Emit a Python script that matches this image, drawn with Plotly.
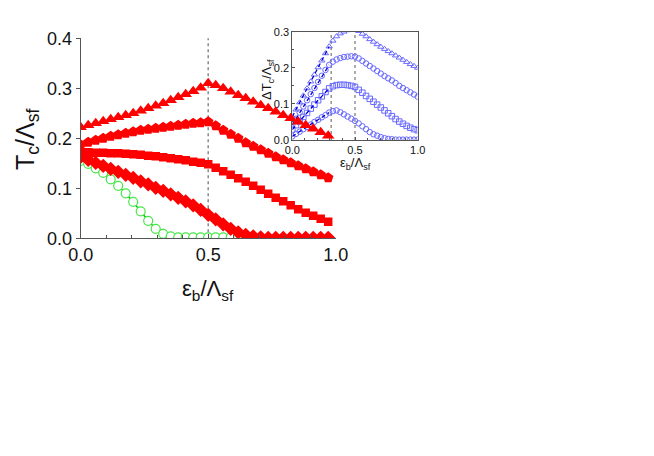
import plotly.graph_objects as go

# ---------------- data ----------------
# main panel: x grid (eps_b / Lambda_sf), 34 points
x_main = [k / 34 for k in range(34)]

tc_triangle = [0.222, 0.226, 0.230, 0.234, 0.238, 0.242, 0.246, 0.250, 0.255, 0.260,
               0.265, 0.270, 0.276, 0.282, 0.288, 0.294, 0.301, 0.310,
               0.306, 0.300, 0.293, 0.286, 0.280, 0.273, 0.266, 0.260, 0.253, 0.246,
               0.240, 0.233, 0.226, 0.219, 0.212, 0.205]
tc_pentagon = [0.187, 0.192, 0.196, 0.200, 0.204, 0.207, 0.210, 0.213, 0.216, 0.218,
               0.220, 0.222, 0.224, 0.226, 0.228, 0.230, 0.231, 0.233,
               0.225, 0.216, 0.208, 0.200, 0.191, 0.184, 0.177, 0.170, 0.163, 0.157,
               0.151, 0.145, 0.139, 0.133, 0.127, 0.121]
tc_square = [0.172, 0.172, 0.171, 0.171, 0.170, 0.170, 0.169, 0.168, 0.167, 0.165,
             0.164, 0.162, 0.160, 0.158, 0.156, 0.153, 0.151, 0.148,
             0.141, 0.134, 0.127, 0.120, 0.113, 0.105, 0.097, 0.089, 0.081, 0.074,
             0.066, 0.058, 0.051, 0.045, 0.039, 0.033]
tc_diamond = [0.163, 0.157, 0.151, 0.145, 0.139, 0.133, 0.127, 0.121, 0.114, 0.108,
              0.101, 0.095, 0.088, 0.081, 0.074, 0.066, 0.057, 0.047,
              0.038, 0.028, 0.019, 0.012, 0.007, 0.004, 0.002, 0.001, 0.001, 0.001,
              0.001, 0.001, 0.001, 0.001, 0.001, 0.001]
x_green = [k / 34 for k in range(23)]
tc_green = [0.155, 0.149, 0.140, 0.131, 0.118, 0.105, 0.090, 0.073, 0.054, 0.035,
            0.019, 0.009, 0.004, 0.002, 0.002, 0.002, 0.002, 0.002, 0.002, 0.002,
            0.002, 0.002, 0.002]

# inset: Delta Tc / Lambda_sf, 35 points
x_inset = [k / 34 for k in range(35)]
dtc_a = [0.065, 0.084, 0.104, 0.123, 0.143, 0.162, 0.181, 0.201, 0.220, 0.240,
         0.259, 0.275, 0.287, 0.295, 0.300, 0.304, 0.306, 0.306, 0.302, 0.294,
         0.287, 0.279, 0.272, 0.265, 0.258, 0.252, 0.246, 0.240, 0.234, 0.228,
         0.222, 0.216, 0.210, 0.205, 0.200]
dtc_b = [0.042, 0.059, 0.076, 0.093, 0.110, 0.127, 0.144, 0.161, 0.178, 0.194,
         0.208, 0.217, 0.223, 0.227, 0.230, 0.231, 0.232, 0.231, 0.226, 0.219,
         0.212, 0.205, 0.198, 0.191, 0.184, 0.177, 0.171, 0.165, 0.158, 0.150,
         0.144, 0.138, 0.132, 0.126, 0.120]
dtc_c = [0.029, 0.041, 0.052, 0.064, 0.075, 0.087, 0.098, 0.110, 0.121, 0.133,
         0.143, 0.149, 0.152, 0.153, 0.153, 0.152, 0.150, 0.147, 0.139, 0.131,
         0.122, 0.114, 0.106, 0.098, 0.090, 0.082, 0.074, 0.066, 0.058, 0.051,
         0.045, 0.039, 0.034, 0.030, 0.027]
dtc_d = [0.010, 0.017, 0.023, 0.030, 0.036, 0.043, 0.050, 0.056, 0.063, 0.069,
         0.076, 0.080, 0.082, 0.077, 0.071, 0.065, 0.059, 0.053, 0.046, 0.038,
         0.030, 0.022, 0.016, 0.012, 0.008, 0.005, 0.003, 0.002, 0.001, 0.001,
         0.001, 0.001, 0.001, 0.001, 0.001]
n_fit = 11  # points on the dark dashed linear fits (x <= 0.31)

main_vline = 0.5
inset_vlines = [0.31, 0.5]

# ---------------- figure ----------------
RED = "rgb(255,0,0)"
GREEN = "rgb(70,230,70)"
BLUE = "rgb(105,105,255)"
DARKBLUE = "rgb(0,0,210)"
AXC = "#555555"
FONT = "Liberation Sans, Arial, sans-serif"

fig = go.Figure()

# ----- inset (xy), drawn first so the main panel sits above it -----
for ys, sym in [(dtc_a, "triangle-up-open"), (dtc_b, "circle-open"),
                (dtc_c, "square-open"), (dtc_d, "circle-open")]:
    fig.add_trace(go.Scatter(x=x_inset, y=ys, mode="markers", xaxis="x", yaxis="y",
                             marker=dict(symbol=sym, size=5.5, color=BLUE,
                                         line=dict(width=1, color=BLUE)),
                             showlegend=False, hoverinfo="skip"))
for ys in [dtc_a, dtc_b, dtc_c, dtc_d]:
    fig.add_trace(go.Scatter(x=x_inset[:n_fit], y=ys[:n_fit], mode="lines",
                             xaxis="x", yaxis="y",
                             line=dict(color=DARKBLUE, width=1.3, dash="4px,3px"),
                             showlegend=False, hoverinfo="skip"))

# ----- main panel (x2y2) -----
fig.add_trace(go.Scatter(x=x_green, y=tc_green, mode="lines", xaxis="x2", yaxis="y2",
                         line=dict(color="rgb(0,200,0)", width=1.5),
                         showlegend=False, hoverinfo="skip"))
fig.add_trace(go.Scatter(x=x_green, y=tc_green, mode="markers", xaxis="x2", yaxis="y2",
                         marker=dict(symbol="circle", size=9, color="white",
                                     line=dict(width=1.2, color=GREEN)),
                         showlegend=False, hoverinfo="skip"))
for ys, sym, sz in [(tc_triangle, "triangle-up", 11), (tc_pentagon, "pentagon", 11),
                    (tc_square, "square", 8.5), (tc_diamond, "diamond", 11)]:
    fig.add_trace(go.Scatter(x=x_main, y=ys, mode="markers", xaxis="x2", yaxis="y2",
                             marker=dict(symbol=sym, size=sz, color=RED,
                                         line=dict(width=0)),
                             showlegend=False, hoverinfo="skip"))

shapes = [dict(type="line", xref="x2", yref="y2 domain", x0=main_vline, x1=main_vline,
               y0=0, y1=1, line=dict(color="#888888", width=1.5, dash="dot"), layer="below")]
for v in inset_vlines:
    shapes.append(dict(type="line", xref="x", yref="y domain", x0=v, x1=v, y0=0, y1=1,
                       line=dict(color="#777777", width=1.2, dash="dot"), layer="below"))

W, H = 654, 456
OFF = 8  # page margin of the html body
def px(x):
    return (x - OFF) / W
def py(y):
    return (H - (y - OFF)) / H

common = dict(showgrid=False, zeroline=False, automargin=False, tickcolor=AXC,
              linecolor=AXC, showline=True, tickformat=".1f")

fig.update_layout(
    template="none",
    width=W, height=H,
    margin=dict(l=0, r=0, t=0, b=0, pad=0, autoexpand=False),
    paper_bgcolor="white", plot_bgcolor="rgba(0,0,0,0)",
    font=dict(family=FONT, color="#111111"),
    shapes=shapes,
    xaxis=dict(domain=[px(292.3), px(417.7)], range=[0, 1], anchor="y",
               mirror=True, linewidth=1, ticks="inside", ticklen=3, dtick=0.5,
               minor=dict(ticks="inside", ticklen=2, dtick=0.1, tickcolor=AXC),
               tickfont=dict(size=11), **common),
    yaxis=dict(domain=[py(140), py(31.7)], range=[0, 0.3], anchor="x",
               mirror=True, linewidth=1, ticks="inside", ticklen=3, dtick=0.1,
               minor=dict(ticks="inside", ticklen=2, dtick=0.05, tickcolor=AXC),
               tickfont=dict(size=11), **common),
    xaxis2=dict(domain=[px(80.7), px(335.7)], range=[0, 1.0], anchor="y2",
                linewidth=1.3, ticks="inside", ticklen=4, dtick=0.5,
                minor=dict(ticks="inside", ticklen=3, dtick=0.1, tickcolor=AXC),
                tickfont=dict(size=18), **common),
    yaxis2=dict(domain=[py(238.3), py(38.3)], range=[0, 0.4], anchor="x2",
                linewidth=1.3, ticks="outside", ticklen=4, dtick=0.1,
                tickfont=dict(size=18), **common),
    annotations=[
        dict(text="T<sub>c</sub>/Λ<sub>sf</sub>", xref="paper", yref="paper",
             x=px(27), y=py(140), textangle=-90, showarrow=False,
             font=dict(size=25), xanchor="center", yanchor="middle"),
        dict(text="ε<sub>b</sub>/Λ<sub>sf</sub>", xref="paper", yref="paper",
             x=px(208), y=py(290), showarrow=False,
             font=dict(size=22), xanchor="center", yanchor="middle"),
        dict(text="ΔT<sub>c</sub>/Λ<sub>sf</sub>", xref="paper", yref="paper",
             x=px(267), y=py(80), textangle=-90, showarrow=False,
             font=dict(size=13), xanchor="center", yanchor="middle"),
        dict(text="ε<sub>b</sub>/Λ<sub>sf</sub>", xref="paper", yref="paper",
             x=px(355), y=py(164), showarrow=False,
             font=dict(size=13), xanchor="center", yanchor="middle"),
    ],
)

fig.write_html("out.html")
